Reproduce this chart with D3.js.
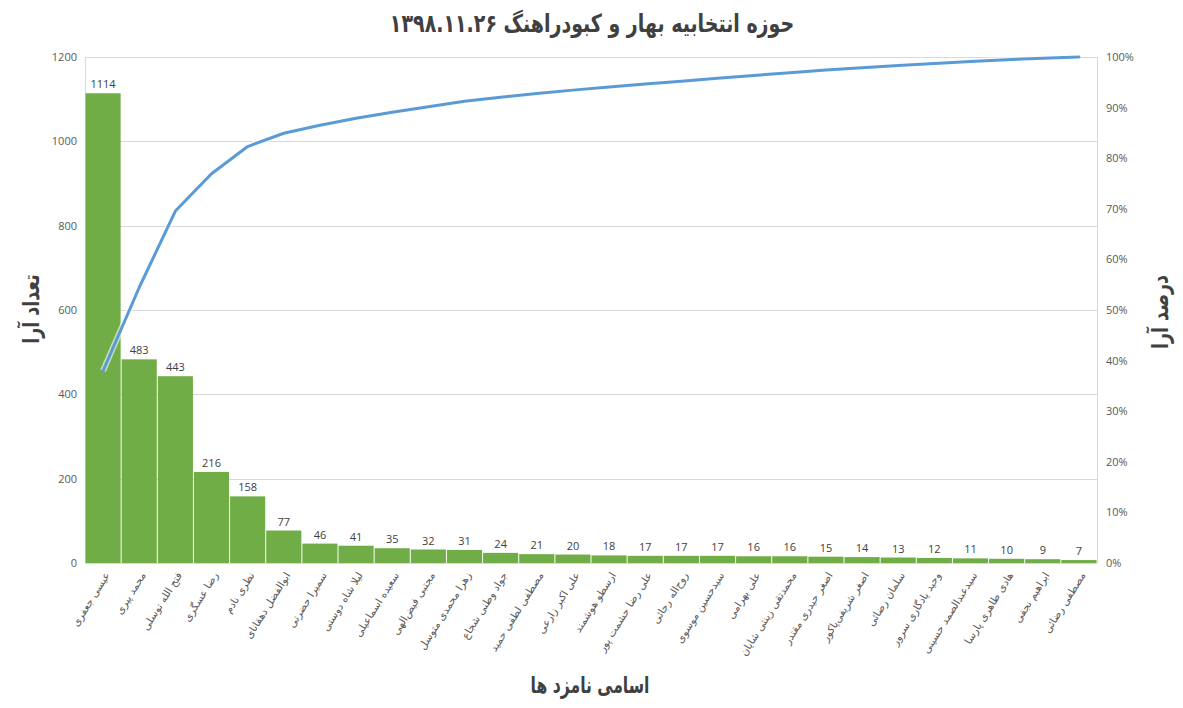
<!DOCTYPE html>
<html>
<head>
<meta charset="utf-8">
<script src="https://cdn.jsdelivr.net/npm/d3@7"></script>
<style>
  body { margin: 0; background: #fff; }
  svg { display: block; }
</style>
</head>
<body>
<script>
const [W, H] = [1183, 708];
const M = { top: 57, right: 86, bottom: 145, left: 85 };

const names = [
    'عیسی جعفری', 'محمد پیری', 'فتح الله توسلی', 'رضا عسگری', 'نظری نادم',
    'ابوالفضل دهقانای', 'سمیرا حضرتی', 'لیلا شاه دوستی', 'سعیده اسماعیلی', 'مجتبی فیض‌الهی',
    'زهرا محمدی متوسل', 'جواد وطنی شجاع', 'مصطفی لطفی حمید', 'علی اکبر زارعی', 'ارسطو هوشمند',
    'علی رضا حشمت پور', 'روح‌اله رجائی', 'سیدحسین موسوی', 'علی بهرامی', 'محمدتقی زینتی شایان',
    'اصغر حیدری مقتدر', 'اصغر شریفی‌پاکور', 'سلمان رضائی', 'وحید یادگاری سرور', 'سیدعبدالصمد حسینی',
    'هادی طاهری پارسا', 'ابراهیم نجفی', 'مصطفی رضائی'
];
const votes = [1114, 483, 443, 216, 158, 77, 46, 41, 35, 32, 31, 24, 21, 20, 18, 17, 17, 17, 16, 16, 15, 14, 13, 12, 11, 10, 9, 7];
const countTicks = [0, 200, 400, 600, 800, 1000, 1200];
const pctTicks = [0, 0.1, 0.2, 0.3, 0.4, 0.5, 0.6, 0.7, 0.8, 0.9, 1];

const titleText = 'حوزه انتخابیه بهار و کبودراهنگ ۱۳۹۸.۱۱.۲۶';
const yTitle = 'تعداد آرا';
const y2Title = 'درصد آرا';
const xTitle = 'اسامی نامزد ها';

function main() {
    const total = d3.sum(votes);
    const cum = Array.from(d3.cumsum(votes), v => v / total);
    const data = names.map((n, i) => ({ name: n, v: votes[i], p: cum[i] }));

    const svg = d3.select('body').append('svg').attr('width', W).attr('height', H);

    const x0 = M.left, x1 = W - M.right, y0 = H - M.bottom, y1 = M.top;

    const xScale = d3.scaleBand().domain(names).range([x0, x1]).padding(0);
    const yScale = d3.scaleLinear().domain([0, 1200]).range([y0, y1]);
    const pScale = d3.scaleLinear().domain([0, 1]).range([y0, y1]);

    // gridlines
    svg.append('g').selectAll('line')
        .data(countTicks).enter().append('line')
        .attr('x1', x0).attr('x2', x1)
        .attr('y1', d => Math.round(yScale(d)) + 0.5).attr('y2', d => Math.round(yScale(d)) + 0.5)
        .attr('stroke', '#d9d9d9').attr('stroke-width', 1);

    // side borders
    [x0, x1].forEach(xx => {
        svg.append('line')
            .attr('x1', xx + 0.5).attr('x2', xx + 0.5)
            .attr('y1', y1).attr('y2', y0)
            .attr('stroke', '#d9d9d9');
    });

    // bars
    svg.append('g').selectAll('rect')
        .data(data).enter().append('rect')
        .attr('x', d => xScale(d.name) + 0.5)
        .attr('width', xScale.bandwidth() - 1)
        .attr('y', d => yScale(d.v))
        .attr('height', d => y0 - yScale(d.v))
        .attr('fill', '#70ad47');

    // data labels
    svg.append('g').selectAll('text')
        .data(data).enter().append('text')
        .attr('x', d => xScale(d.name) + xScale.bandwidth() / 2)
        .attr('y', d => yScale(d.v) - 5)
        .attr('text-anchor', 'middle')
        .style('font-family', 'Open Sans, Liberation Sans, sans-serif')
        .style('font-size', '11px')
        .attr('fill', '#404040')
        .text(d => d.v);

    // cumulative line
    const line = d3.line()
        .x(d => xScale(d.name) + xScale.bandwidth() / 2)
        .y(d => pScale(d.p));

    svg.append('path').datum(data)
        .attr('d', line)
        .attr('fill', 'none')
        .attr('stroke', '#ffffff')
        .attr('stroke-opacity', 0.6)
        .attr('stroke-width', 6)
        .attr('stroke-linejoin', 'round');

    svg.append('path').datum(data)
        .attr('d', line)
        .attr('fill', 'none')
        .attr('stroke', '#5b9bd5')
        .attr('stroke-width', 3)
        .attr('stroke-linejoin', 'round')
        .attr('stroke-linecap', 'round');

    // axes
    const tickFont = g => g.selectAll('text')
        .style('font-family', 'Open Sans, Liberation Sans, sans-serif')
        .style('font-size', '11px')
        .attr('fill', '#595959');

    svg.append('g')
        .attr('transform', 'translate(' + x0 + ',0)')
        .call(d3.axisLeft(yScale).tickValues(countTicks).tickSize(0).tickPadding(8).tickFormat(d3.format('d')))
        .call(g => g.select('.domain').remove())
        .call(tickFont);

    svg.append('g')
        .attr('transform', 'translate(' + x1 + ',0)')
        .call(d3.axisRight(pScale).tickValues(pctTicks).tickSize(0).tickPadding(9).tickFormat(d3.format('.0%')))
        .call(g => g.select('.domain').remove())
        .call(tickFont);

    // x labels
    svg.append('g').selectAll('text')
        .data(data).enter().append('text')
        .attr('transform', d => 'translate(' + (xScale(d.name) + xScale.bandwidth() / 2 + 4) + ',' + (y0 + 10) + ') rotate(-58)')
        .attr('text-anchor', 'end')
        .attr('dy', '0.35em')
        .style('font-family', 'DejaVu Sans, sans-serif')
        .style('font-size', '10.5px')
        .attr('fill', '#595959')
        .text(d => d.name);

    // titles
    const boldFa = s => s.style('font-family', 'DejaVu Sans, sans-serif')
        .style('font-weight', 'bold')
        .attr('fill', '#404040')
        .attr('text-anchor', 'middle');

    svg.append('text')
        .attr('transform', 'translate(592,32) scale(0.76,1)')
        .style('font-size', '25px')
        .call(boldFa)
        .text(titleText);

    svg.append('text')
        .attr('transform', 'translate(39,309) rotate(-90) scale(0.76,1)')
        .style('font-size', '23px')
        .call(boldFa)
        .text(yTitle);

    svg.append('text')
        .attr('transform', 'translate(1168,312) rotate(-90) scale(0.76,1)')
        .style('font-size', '23px')
        .call(boldFa)
        .text(y2Title);

    svg.append('text')
        .attr('transform', 'translate(590,693) scale(0.68,1)')
        .style('font-size', '23px')
        .call(boldFa)
        .text(xTitle);
}

document.addEventListener('DOMContentLoaded', main);
</script>
</body>
</html>
